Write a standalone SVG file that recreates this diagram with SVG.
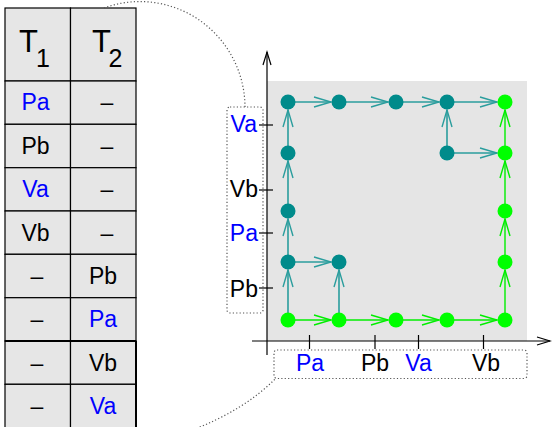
<svg xmlns="http://www.w3.org/2000/svg" width="552" height="427" viewBox="0 0 552 427">
<style>
.t{font-family:"Liberation Sans",Arial,sans-serif;font-size:23px;text-anchor:middle;fill:#000}
.h{font-family:"Liberation Sans",Arial,sans-serif;font-size:31px;fill:#000}
.b{fill:#0000ff}
.cell{fill:#e6e6e6;stroke:#000;stroke-width:1.2}
.tk{stroke:#000;stroke-width:1.2}
.dot{fill:none;stroke:#555;stroke-width:1.2;stroke-dasharray:1.2,2.2}
.nt{fill:#008b8b}
.ng{fill:#00ff00}
.et{stroke:#2a9d9d;stroke-width:1.6;fill:none;marker-end:url(#at)}
.eg{stroke:#00ee00;stroke-width:1.4;fill:none;marker-end:url(#ag)}
</style>
<defs>
<marker id="at" markerUnits="userSpaceOnUse" markerWidth="20" markerHeight="14" viewBox="-18 -7 20 14" refX="0" refY="0" orient="auto" overflow="visible">
<path d="M-17,-5 L0,0 L-17,5" fill="none" stroke="#2a9d9d" stroke-width="1.4"/>
</marker>
<marker id="ag" markerUnits="userSpaceOnUse" markerWidth="20" markerHeight="14" viewBox="-18 -7 20 14" refX="0" refY="0" orient="auto" overflow="visible">
<path d="M-17,-5 L0,0 L-17,5" fill="none" stroke="#00ee00" stroke-width="1.4"/>
</marker>
<marker id="ax" markerUnits="userSpaceOnUse" markerWidth="14" markerHeight="12" viewBox="-12 -6 14 12" refX="0" refY="0" orient="auto" overflow="visible">
<path d="M-13,-4 L0,0 L-13,4" fill="none" stroke="#000" stroke-width="1.2"/>
</marker>
</defs>
<rect width="552" height="427" fill="#fff"/>

<g id="table">
<rect class="cell" x="5" y="8" width="65.5" height="73"/>
<rect class="cell" x="70.5" y="8" width="65.5" height="73"/>
<text class="h" x="19" y="52">T<tspan dx="-2" dy="15" font-size="25">1</tspan></text>
<text class="h" x="92" y="52">T<tspan dx="-2.5" dy="15" font-size="25">2</tspan></text>

<rect class="cell" x="5" y="81" width="65.5" height="43.3"/>
<rect class="cell" x="70.5" y="81" width="65.5" height="43.3"/>
<rect class="cell" x="5" y="124.3" width="65.5" height="43.4"/>
<rect class="cell" x="70.5" y="124.3" width="65.5" height="43.4"/>
<rect class="cell" x="5" y="167.7" width="65.5" height="43.3"/>
<rect class="cell" x="70.5" y="167.7" width="65.5" height="43.3"/>
<rect class="cell" x="5" y="211" width="65.5" height="43.3"/>
<rect class="cell" x="70.5" y="211" width="65.5" height="43.3"/>
<rect class="cell" x="5" y="254.3" width="65.5" height="43.4"/>
<rect class="cell" x="70.5" y="254.3" width="65.5" height="43.4"/>
<rect class="cell" x="5" y="297.7" width="65.5" height="43.3"/>
<rect class="cell" x="70.5" y="297.7" width="65.5" height="43.3"/>
<rect class="cell" x="5" y="341" width="65.5" height="43.3"/>
<rect class="cell" x="70.5" y="341" width="65.5" height="43.3"/>
<rect class="cell" x="5" y="384.3" width="65.5" height="50"/>
<rect class="cell" x="70.5" y="384.3" width="65.5" height="50"/>
<line x1="5" y1="341" x2="136" y2="341" stroke="#000" stroke-width="2"/>
<line x1="136" y1="341" x2="136" y2="427" stroke="#000" stroke-width="2"/>

<text class="t b" x="35.5" y="110">Pa</text><text class="t" x="107" y="110">–</text>
<text class="t" x="35.5" y="153.5">Pb</text><text class="t" x="107" y="153.5">–</text>
<text class="t b" x="35.5" y="197">Va</text><text class="t" x="107" y="197">–</text>
<text class="t" x="35.5" y="240.5">Vb</text><text class="t" x="107" y="240.5">–</text>
<text class="t" x="37" y="283.5">–</text><text class="t" x="103" y="283.5">Pb</text>
<text class="t" x="37" y="327">–</text><text class="t b" x="103" y="327">Pa</text>
<text class="t" x="37" y="370.5">–</text><text class="t" x="103" y="370.5">Vb</text>
<text class="t" x="37" y="414">–</text><text class="t b" x="103" y="414">Va</text>
</g>

<g id="plot">
<rect x="267" y="81" width="260" height="260" fill="#e5e5e5"/>
<line x1="267" y1="355" x2="267" y2="52" class="tk" marker-end="url(#ax)"/>
<line x1="252" y1="341" x2="550" y2="341" class="tk" marker-end="url(#ax)"/>
<line class="tk" x1="259" y1="125" x2="273" y2="125"/>
<line class="tk" x1="259" y1="190" x2="273" y2="190"/>
<line class="tk" x1="259" y1="233" x2="273" y2="233"/>
<line class="tk" x1="259" y1="288" x2="273" y2="288"/>
<line class="tk" x1="309.5" y1="335" x2="309.5" y2="349"/>
<line class="tk" x1="375" y1="335" x2="375" y2="349"/>
<line class="tk" x1="418.5" y1="335" x2="418.5" y2="349"/>
<line class="tk" x1="483.5" y1="335" x2="483.5" y2="349"/>
<text class="t b" x="257" y="132" style="text-anchor:end">Va</text>
<text class="t" x="258" y="197" style="text-anchor:end">Vb</text>
<text class="t b" x="258" y="240.5" style="text-anchor:end">Pa</text>
<text class="t" x="258" y="296.5" style="text-anchor:end">Pb</text>
<text class="t b" x="310" y="370.5">Pa</text>
<text class="t" x="375" y="370.5">Pb</text>
<text class="t b" x="418.5" y="370.5">Va</text>
<text class="t" x="486" y="370.5">Vb</text>
</g>

<g id="boxes">
<rect class="dot" x="227" y="107" width="36" height="206" rx="3"/>
<rect class="dot" x="274" y="350" width="253" height="28.5" rx="3"/>
<path class="dot" d="M104,8 A105,106 0 0 1 245,107"/>
<path class="dot" d="M190,431 Q245,410 276,378"/>
</g>

<g id="connectors">
<line class="et" x1="288" y1="102" x2="331" y2="102"/>
<line class="et" x1="339" y1="102" x2="388" y2="102"/>
<line class="et" x1="396" y1="102" x2="439" y2="102"/>
<line class="et" x1="447" y1="102" x2="497" y2="102"/>
<line class="et" x1="447" y1="153" x2="447" y2="110"/>
<line class="et" x1="447" y1="153" x2="497" y2="153"/>
<line class="et" x1="288" y1="153" x2="288" y2="110"/>
<line class="et" x1="288" y1="211" x2="288" y2="161"/>
<line class="et" x1="288" y1="262" x2="288" y2="219"/>
<line class="et" x1="288" y1="320" x2="288" y2="270"/>
<line class="et" x1="288" y1="262" x2="331" y2="262"/>
<line class="et" x1="339" y1="320" x2="339" y2="270"/>
<line class="eg" x1="288" y1="320" x2="331" y2="320"/>
<line class="eg" x1="339" y1="320" x2="388" y2="320"/>
<line class="eg" x1="396" y1="320" x2="439" y2="320"/>
<line class="eg" x1="447" y1="320" x2="497" y2="320"/>
<line class="eg" x1="505" y1="320" x2="505" y2="270"/>
<line class="eg" x1="505" y1="262" x2="505" y2="219"/>
<line class="eg" x1="505" y1="211" x2="505" y2="161"/>
<line class="eg" x1="505" y1="153" x2="505" y2="110"/>
</g>

<g id="n-1"><circle class="nt" cx="288" cy="102" r="7.5"/></g>
<g id="n-2"><circle class="nt" cx="339" cy="102" r="7.5"/></g>
<g id="n-3"><circle class="nt" cx="396" cy="102" r="7.5"/></g>
<g id="n-4"><circle class="nt" cx="447" cy="102" r="7.5"/></g>
<g id="n-5"><circle class="ng" cx="505" cy="102" r="7.5"/></g>
<g id="n-6"><circle class="nt" cx="288" cy="153" r="7.5"/></g>
<g id="n-7"><circle class="nt" cx="447" cy="153" r="7.5"/></g>
<g id="n-8"><circle class="ng" cx="505" cy="153" r="7.5"/></g>
<g id="n-9"><circle class="nt" cx="288" cy="211" r="7.5"/></g>
<g id="n-10"><circle class="ng" cx="505" cy="211" r="7.5"/></g>
<g id="n-11"><circle class="nt" cx="288" cy="262" r="7.5"/></g>
<g id="n-12"><circle class="nt" cx="339" cy="262" r="7.5"/></g>
<g id="n-13"><circle class="ng" cx="505" cy="262" r="7.5"/></g>
<g id="n-14"><circle class="ng" cx="288" cy="320" r="7.5"/></g>
<g id="n-15"><circle class="ng" cx="339" cy="320" r="7.5"/></g>
<g id="n-16"><circle class="ng" cx="396" cy="320" r="7.5"/></g>
<g id="n-17"><circle class="ng" cx="447" cy="320" r="7.5"/></g>
<g id="n-18"><circle class="ng" cx="505" cy="320" r="7.5"/></g>
</svg>
